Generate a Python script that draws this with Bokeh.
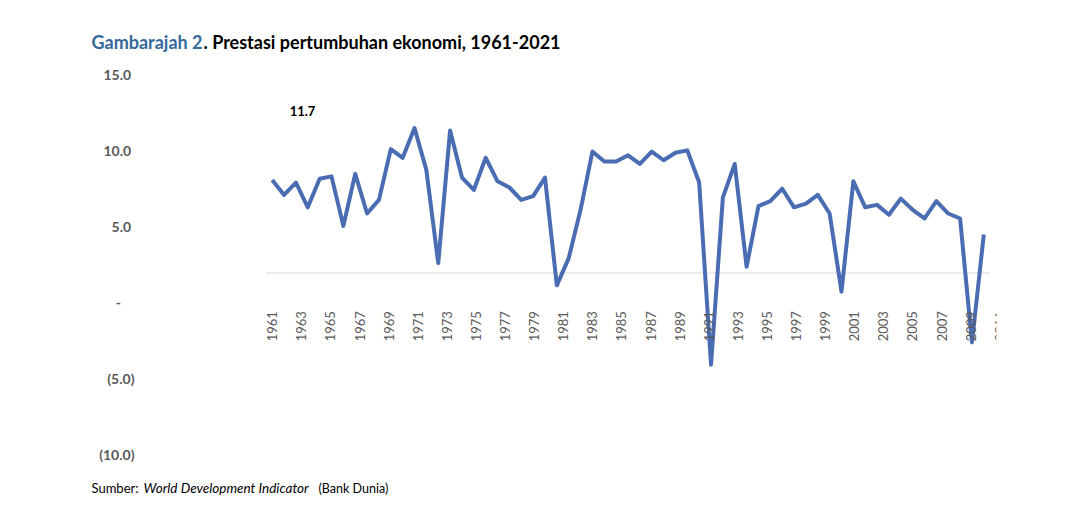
import math
from bokeh.plotting import figure
from bokeh.models import Range1d, Label, LabelSet, ColumnDataSource
from bokeh.core.properties import value
from bokeh.embed import file_html
from bokeh.resources import INLINE

# ---------------- data ----------------
years = list(range(1961, 2022))
growth = [7.5, 6.3, 7.3, 5.3, 7.6, 7.8, 3.8, 8.0, 4.8, 5.9,
          10.0, 9.3, 11.7, 8.3, 0.8, 11.5, 7.7, 6.7, 9.3, 7.4,
          6.9, 5.9, 6.2, 7.7, -1.0, 1.2, 5.1, 9.8, 9.0, 9.0,
          9.5, 8.8, 9.8, 9.1, 9.7, 9.9, 7.3, -7.4, 6.1, 8.8,
          0.5, 5.4, 5.8, 6.8, 5.3, 5.6, 6.3, 4.8, -1.5, 7.4,
          5.3, 5.5, 4.7, 6.0, 5.1, 4.4, 5.8, 4.8, 4.4, -5.6,
          3.1]
x_tick_years = list(range(1961, 2012, 2))
y_tick_values = [15, 10, 5, 0, -5, -10]
y_tick_labels = ["15.0\u00a0", "10.0\u00a0", "5.0\u00a0", "-\u00a0\u00a0\u00a0\u00a0", "(5.0)", "(10.0)"]

FONT = "Lato"
GRAY = "#595959"
LINE = "#4a6cb3"
BLUE = "#36699b"
H = 513

p = figure(width=1064, height=H, output_backend="svg", toolbar_location=None,
           x_range=Range1d(1938.091, 2022.07), y_range=Range1d(-19.411, 21.993),
           x_axis_location=None, y_axis_location=None,
           min_border_left=0, min_border_right=68,
           min_border_top=0, min_border_bottom=0,
           outline_line_color=None, background_fill_color="white",
           border_fill_color="white")
p.grid.visible = False

p.extra_y_ranges = {"ylab": Range1d(-13.882, 19.868)}
p.extra_x_ranges = {"xlab": Range1d(1942.326, 2010.78)}

# zero line (category axis)
p.segment(x0=[years[0] - 0.5], y0=[0], x1=[years[-1] + 0.5], y1=[0],
          line_color="#d9d9d9", line_width=1)

# data line
p.line(years, growth, line_color=LINE, line_width=4, line_join="round")

# value-axis labels
ysrc = ColumnDataSource(dict(y=y_tick_values, text=y_tick_labels))
p.add_layout(LabelSet(x=134, y="y", text="text", source=ysrc, x_units="screen",
                      y_range_name="ylab", text_align="right",
                      text_baseline="middle", text_font=value(FONT),
                      text_font_size="14px", text_font_style="bold",
                      text_color=GRAY))

# category-axis labels
xsrc = ColumnDataSource(dict(x=x_tick_years, text=[str(y) for y in x_tick_years]))
p.add_layout(LabelSet(x="x", y=-3.08, text="text", source=xsrc, x_range_name="xlab",
                      angle=math.pi / 2, text_align="right", text_baseline="middle",
                      text_font=value(FONT), text_font_size="13px",
                      text_color=GRAY))

# peak annotation
p.add_layout(Label(x=302, y=H - 110.5, x_units="screen", y_units="screen",
                   text=f"{max(growth):.1f}", text_align="center",
                   text_baseline="middle", text_font=FONT,
                   text_font_size="13px", text_font_style="bold",
                   text_color="black"))

# title
p.add_layout(Label(x=91, y=H - 41.3, x_units="screen", y_units="screen",
                   text="Gambarajah 2", text_font=FONT, text_font_size="18px",
                   text_font_style="bold", text_color=BLUE,
                   text_baseline="middle"))
p.add_layout(Label(x=203, y=H - 41.3, x_units="screen", y_units="screen",
                   text=". Prestasi pertumbuhan ekonomi, 1961-2021",
                   text_font=FONT, text_font_size="18px",
                   text_font_style="bold", text_color="black",
                   text_baseline="middle"))

# source
p.add_layout(Label(x=91, y=H - 487.8, x_units="screen", y_units="screen",
                   text="Sumber:", text_font=FONT, text_font_size="13px",
                   text_color="black", text_baseline="middle"))
p.add_layout(Label(x=143, y=H - 487.8, x_units="screen", y_units="screen",
                   text="World Development Indicator", text_font=FONT,
                   text_font_size="13.5px", text_font_style="italic",
                   text_color="black", text_baseline="middle"))
p.add_layout(Label(x=318, y=H - 487.8, x_units="screen", y_units="screen",
                   text="(Bank Dunia)", text_font=FONT, text_font_size="12.5px",
                   text_color="black", text_baseline="middle"))

open("out.html", "w").write(file_html(p, INLINE))
